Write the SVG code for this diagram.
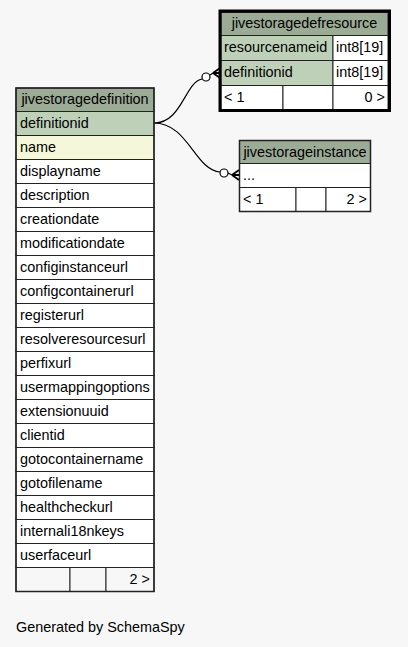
<svg xmlns="http://www.w3.org/2000/svg" width="408" height="647" viewBox="0 0 408 647">
<style>
text{font-family:"Liberation Sans",Arial,Helvetica,sans-serif;font-size:14.4px;fill:#000}
.hd{fill:#9bab96}
.key{fill:#bed1b8}
.idx{fill:#f4f7da}
.pl{fill:#ffffff}
.ft{fill:#f7f7f7}
.c{stroke:#222;stroke-width:1}
.mid{text-anchor:middle}
.end{text-anchor:end}
.edge{fill:none;stroke:#000;stroke-width:1.2}
.dot{fill:#fff;stroke:#000;stroke-width:1.2}
.crow{fill:none;stroke:#000;stroke-width:1.8}
</style>
<rect width="408" height="647" fill="#f7f7f7"/>

<g id="connectors">
<path class="edge" d="M154,123 C182,123 185,82 202,79"/>
<path class="edge" d="M210,75 L213,73"/>
<path class="crow" d="M213,73 L220,68 M213,73 L220,73 M213,73 L220,78"/>
<circle class="dot" cx="206" cy="77" r="4"/>
<path class="edge" d="M154,123 C188,123 195,170 220,172"/>
<path class="edge" d="M228,173 L232,175"/>
<path class="crow" d="M232,175 L239,170 M232,175 L239,175 M232,175 L239,180"/>
<circle class="dot" cx="224" cy="173" r="4"/>
</g>

<g id="jivestoragedefinition">
<rect class="hd c" x="16" y="88" width="138" height="23.5"/>
<text x="85" y="104" class="mid">jivestoragedefinition</text>
<rect class="key c" x="16" y="111.5" width="138" height="24"/>
<text x="20" y="127.5">definitionid</text>
<rect class="idx c" x="16" y="135.5" width="138" height="24"/>
<text x="20" y="151.5">name</text>
<rect class="pl c" x="16" y="159.5" width="138" height="24"/>
<text x="20" y="175.5">displayname</text>
<rect class="pl c" x="16" y="183.5" width="138" height="24"/>
<text x="20" y="199.5">description</text>
<rect class="pl c" x="16" y="207.5" width="138" height="24"/>
<text x="20" y="223.5">creationdate</text>
<rect class="pl c" x="16" y="231.5" width="138" height="24"/>
<text x="20" y="247.5">modificationdate</text>
<rect class="pl c" x="16" y="255.5" width="138" height="24"/>
<text x="20" y="271.5">configinstanceurl</text>
<rect class="pl c" x="16" y="279.5" width="138" height="24"/>
<text x="20" y="295.5">configcontainerurl</text>
<rect class="pl c" x="16" y="303.5" width="138" height="24"/>
<text x="20" y="319.5">registerurl</text>
<rect class="pl c" x="16" y="327.5" width="138" height="24"/>
<text x="20" y="343.5">resolveresourcesurl</text>
<rect class="pl c" x="16" y="351.5" width="138" height="24"/>
<text x="20" y="367.5">perfixurl</text>
<rect class="pl c" x="16" y="375.5" width="138" height="24"/>
<text x="20" y="391.5">usermappingoptions</text>
<rect class="pl c" x="16" y="399.5" width="138" height="24"/>
<text x="20" y="415.5">extensionuuid</text>
<rect class="pl c" x="16" y="423.5" width="138" height="24"/>
<text x="20" y="439.5">clientid</text>
<rect class="pl c" x="16" y="447.5" width="138" height="24"/>
<text x="20" y="463.5">gotocontainername</text>
<rect class="pl c" x="16" y="471.5" width="138" height="24"/>
<text x="20" y="487.5">gotofilename</text>
<rect class="pl c" x="16" y="495.5" width="138" height="24"/>
<text x="20" y="511.5">healthcheckurl</text>
<rect class="pl c" x="16" y="519.5" width="138" height="24"/>
<text x="20" y="535.5">internali18nkeys</text>
<rect class="pl c" x="16" y="543.5" width="138" height="24"/>
<text x="20" y="559.5">userfaceurl</text>
<rect class="ft c" x="16" y="567.5" width="54" height="24"/>
<rect class="ft c" x="70" y="567.5" width="36" height="24"/>
<rect class="ft c" x="106" y="567.5" width="48" height="24"/>
<text x="150" y="583.5" class="end">2 &gt;</text>
<rect x="16" y="88" width="138" height="503.5" fill="none" stroke="#222" stroke-width="1.5"/>
</g>

<g id="jivestoragedefresource">
<rect class="hd c" x="221" y="12.5" width="167" height="23"/>
<text x="304.5" y="27.5" class="mid">jivestoragedefresource</text>
<rect class="key c" x="221" y="35.5" width="112" height="25"/>
<rect class="pl c" x="333" y="35.5" width="55" height="25"/>
<text x="224" y="52">resourcenameid</text>
<text x="336" y="52">int8[19]</text>
<rect class="key c" x="221" y="60.5" width="112" height="25"/>
<rect class="pl c" x="333" y="60.5" width="55" height="25"/>
<text x="224" y="77">definitionid</text>
<text x="336" y="77">int8[19]</text>
<rect class="pl c" x="221" y="85.5" width="62" height="24"/>
<rect class="pl c" x="283" y="85.5" width="50" height="24"/>
<rect class="pl c" x="333" y="85.5" width="55" height="24"/>
<text x="224" y="101.5">&lt; 1</text>
<text x="385" y="101.5" class="end">0 &gt;</text>
<rect x="220" y="11" width="169.5" height="99.5" fill="none" stroke="#000" stroke-width="3"/>
</g>

<g id="jivestorageinstance">
<rect class="hd c" x="239.5" y="140.5" width="131" height="23"/>
<text x="305" y="156.5" class="mid">jivestorageinstance</text>
<rect class="pl c" x="239.5" y="163.5" width="131" height="24"/>
<text x="243" y="180">...</text>
<rect class="pl c" x="239.5" y="187.5" width="56.5" height="24"/>
<rect class="pl c" x="296" y="187.5" width="30" height="24"/>
<rect class="pl c" x="326" y="187.5" width="44.5" height="24"/>
<text x="243" y="204">&lt; 1</text>
<text x="367" y="204" class="end">2 &gt;</text>
<rect x="239.5" y="140.5" width="131" height="71" fill="none" stroke="#222" stroke-width="1.5"/>
</g>

<text x="16" y="631.5">Generated by SchemaSpy</text>
</svg>
